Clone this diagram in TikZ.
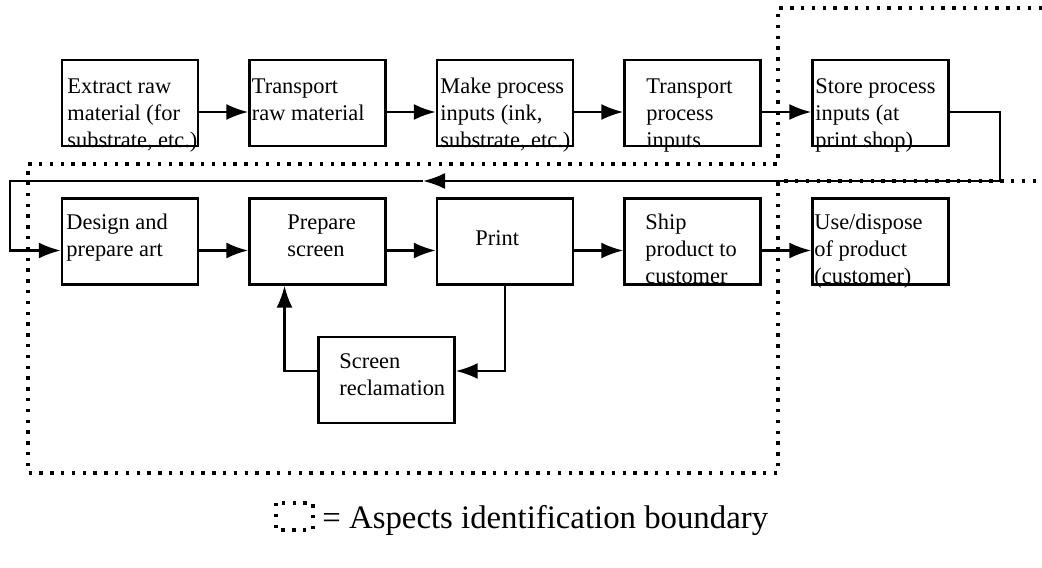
\documentclass[tikz,border=0pt]{standalone}
\usepackage{fontspec}
\setmainfont{Liberation Serif}
\usetikzlibrary{arrows.meta}

\begin{document}
\begin{tikzpicture}[x=0.5pt,y=-0.5pt,
    stage/.style={draw,line width=1.2pt,minimum width=68pt,minimum height=43pt,inner sep=0pt},
    stagetext/.style={anchor=north west,align=left,inner sep=0pt,font=\fontsize{11.2}{13.5}\selectfont},
    flow/.style={line width=1.2pt,-{Latex[length=11pt,width=8pt]}},
    boundary/.style={line width=1.7pt,dash pattern=on 1.7pt off 3.7pt}]
  \useasboundingbox (0,0) rectangle (1042,567);

  % upstream stages
  \node[stage] (extract) at (130,103) {};
  \node[stage] (transraw) at (317.5,103) {};
  \node[stage] (makeinputs) at (505,103) {};
  \node[stage] (transinputs) at (692.5,103) {};
  \node[stage] (store) at (880.5,103) {};
  \node[stagetext] (extractt) at (67,74) {\strut Extract raw\\material (for\\substrate, etc.)};
  \node[stagetext] (transrawt) at (251.5,74) {\strut Transport\\raw material};
  \node[stagetext] (makeinputst) at (440,74) {\strut Make process\\inputs (ink,\\substrate, etc.)};
  \node[stagetext] (transinputst) at (646,74) {\strut Transport\\process\\inputs};
  \node[stagetext] (storet) at (815,74) {\strut Store process\\inputs (at\\print shop)};

  % print shop stages
  \node[stage] (design) at (130,241.5) {};
  \node[stage] (prepare) at (317.5,241.5) {};
  \node[stage] (print) at (505,241.5) {};
  \node[stage] (ship) at (692.5,241.5) {};
  \node[stage] (usedispose) at (880.5,241.5) {};
  \node[stage] (reclaim) at (386.5,380) {};
  \node[stagetext] (designt) at (66,210) {\strut Design and\\prepare art};
  \node[stagetext] (preparet) at (287,210) {\strut Prepare\\screen};
  \node[stagetext] (printt) at (475,226) {\strut Print};
  \node[stagetext] (shipt) at (645,210) {\strut Ship\\product to\\customer};
  \node[stagetext] (usedisposet) at (814,210) {\strut Use/dispose\\of product\\(customer)};
  \node[stagetext] (reclaimt) at (339,349) {\strut Screen\\reclamation};

  \draw[flow] ([yshift=-4.5pt]extract.east) -- ([yshift=-4.5pt]transraw.west);
  \draw[flow] ([yshift=-4.5pt]transraw.east) -- ([yshift=-4.5pt]makeinputs.west);
  \draw[flow] ([yshift=-4.5pt]makeinputs.east) -- ([yshift=-4.5pt]transinputs.west);
  \draw[flow] ([yshift=-4.5pt]transinputs.east) -- ([yshift=-4.5pt]store.west);

  \coordinate (loopR) at (1000,181);
  \coordinate (loopM) at (423,181);
  \coordinate (loopL) at (10,181);
  \draw[flow] ([yshift=-4.5pt]store.east) -| (loopR) -- (loopM);
  \draw[flow] (loopM) -- (loopL) |- ([yshift=-4.5pt]design.west);

  \draw[flow] ([yshift=-4.5pt]design.east) -- ([yshift=-4.5pt]prepare.west);
  \draw[flow] ([yshift=-4.5pt]prepare.east) -- ([yshift=-4.5pt]print.west);
  \draw[flow] ([yshift=-4.5pt]print.east) -- ([yshift=-4.5pt]ship.west);
  \draw[flow] ([yshift=-4.5pt]ship.east) -- ([yshift=-4.5pt]usedispose.west);
  \draw[flow] (print.south) |- ([yshift=4.5pt]reclaim.east);
  \draw[flow] ([yshift=4.5pt]reclaim.west) -| ([xshift=-16.5pt]prepare.south);

  % aspects boundary
  \draw[boundary] (1042,8) -- (778,8) -- (778,164) -- (28,164) -- (28,473)
    -- (778,473) -- (778,181) -- (1042,181);

  % legend
  \draw[boundary] (276,503) rectangle (313,530);
  \node[anchor=base west,inner sep=0pt,font=\fontsize{16.4}{19}\selectfont] (legend) at (322,528)
    {= Aspects identification boundary};
\end{tikzpicture}
\end{document}
